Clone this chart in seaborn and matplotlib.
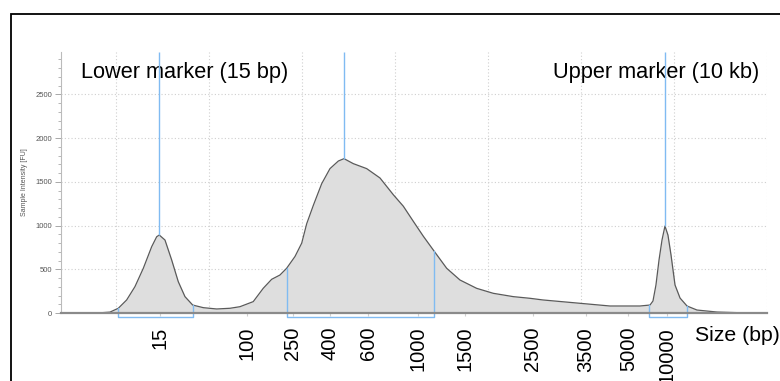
import numpy as np
import pandas as pd
import matplotlib
matplotlib.use("Agg")
import matplotlib.pyplot as plt
import seaborn as sns
from matplotlib.patches import Rectangle
from matplotlib.ticker import MultipleLocator

# Electropherogram trace (migration position vs. sample intensity [FU])
pos = [4.09, 6.77, 8.28, 9.35, 10.25, 11.15, 12.04, 12.94, 13.84, 14.38, 14.66,
       15.27, 15.99, 16.70, 17.42, 18.25, 19.39, 20.83, 22.26, 23.33, 24.76,
       25.84, 26.74, 27.63, 28.35, 29.25, 29.97, 30.51, 31.22, 32.12, 33.01,
       33.91, 34.52, 35.52, 36.96, 38.39, 39.82, 40.90, 41.97, 43.05, 44.12,
       45.56, 46.99, 48.78, 50.57, 52.72, 54.52, 55.91, 59.57, 63.12, 66.34,
       67.42, 67.74, 68.06, 68.39, 68.71, 69.03, 69.35, 69.68, 70.11, 70.65,
       71.40, 72.47, 74.62, 77.42, 80.0]
intensity = [0, 0, 2, 10, 54, 149, 301, 511, 758, 872, 891,
             834, 606, 358, 187, 91, 61, 46, 54, 72, 130,
             283, 385, 434, 511, 646, 798, 1021, 1230, 1478, 1650,
             1737, 1764, 1707, 1650, 1543, 1352, 1220, 1048, 877, 720,
             511, 377, 282, 225, 187, 168, 149, 114, 80, 80,
             91, 137, 320, 606, 834, 994, 891, 663, 320, 171,
             80, 34, 11, 2, 0]

# Ladder (size axis) labels and their positions
ladder_sizes = ["15", "100", "250", "400", "600", "1000", "1500",
                "2500", "3500", "5000", "10000"]
ladder_pos = [14.73, 24.09, 29.03, 33.0, 37.1, 42.5, 47.5,
              54.8, 60.5, 65.1, 69.2]

# Peak markers and integration regions
peak_pos = [14.66, 34.52, 69.03]
region_start = [10.22, 28.39, 67.31]
region_end = [18.28, 44.19, 71.40]

lower_label = "Lower marker (15 bp)"
upper_label = "Upper marker (10 kb)"
x_label = "Size (bp)"
y_label = "Sample Intensity [FU]"

sns.set_theme(style="white")
plt.rcParams["font.family"] = ["Liberation Sans", "DejaVu Sans"]

BLUE = "#80BBF2"
YMAX = 2983
XMIN, XMAX = 4.09, 80.0

fig = plt.figure(figsize=(7.8, 3.81), dpi=100)
ax = fig.add_axes([61 / 780, 1 - 313 / 381, (767 - 61) / 780, (313 - 52) / 381])

df = pd.DataFrame({"pos": pos, "intensity": intensity})
ax.fill_between(df["pos"], df["intensity"], 0, color="#DEDEDE", lw=0, zorder=2)
sns.lineplot(data=df, x="pos", y="intensity", ax=ax, color="#5A5A5A",
             lw=0.9, zorder=3)

ax.set_xlim(XMIN, XMAX)
ax.set_ylim(0, YMAX)

# grid
for g in range(10, 81, 10):
    ax.axvline(g, color="#CFCFCF", lw=0.8, ls=(0, (1, 2)), zorder=1)
ax.set_yticks(range(0, 2501, 500))
ax.yaxis.set_minor_locator(MultipleLocator(100))
ax.grid(axis="y", which="major", color="#CFCFCF", lw=0.8, ls=(0, (1, 2)), zorder=1)
ax.grid(axis="x", visible=False)
ax.set_axisbelow(True)

# peak marker lines
for p in peak_pos:
    ax.vlines(p, np.interp(p, pos, intensity), YMAX, color=BLUE, lw=1.0, zorder=4)

# region brackets
for a, b in zip(region_start, region_end):
    ya = np.interp(a, pos, intensity)
    yb = np.interp(b, pos, intensity)
    ax.plot([a, a, b, b], [ya, -46, -46, yb], color=BLUE, lw=1.0,
            clip_on=False, zorder=4)

# spines
for s in ["top", "right"]:
    ax.spines[s].set_visible(False)
ax.spines["bottom"].set_color("#8A8A8A")
ax.spines["bottom"].set_linewidth(1.6)
ax.spines["bottom"].set_zorder(5)
ax.spines["left"].set_color("#BBBBBB")
ax.spines["left"].set_linewidth(0.8)

# ticks
ax.set_xticks(ladder_pos, ladder_sizes, rotation=90)
ax.tick_params(axis="x", bottom=True, length=2, width=0.8, color="#D0D0D0",
               pad=8, labelsize=14.5, labelcolor="black")
ax.tick_params(axis="y", which="major", left=True, length=4, width=0.6,
               color="#9A9A9A", labelsize=5.5, labelcolor="#555555", pad=2.5)
ax.tick_params(axis="y", which="minor", left=True, length=2, width=0.5,
               color="#9A9A9A")
ax.set_xlabel("")
ax.set_ylabel("")

# annotations
ax.text(6.24, 2686, lower_label, fontsize=15.7, va="baseline", ha="left",
        color="black")
ax.text(56.99, 2686, upper_label, fontsize=15.7, va="baseline", ha="left",
        color="black")
ax.text(72.26, -320, x_label, fontsize=15.3, va="baseline", ha="left",
        clip_on=False, color="black")
fig.text(25 / 780, 1 - 182 / 381, y_label, rotation=90, fontsize=5,
         color="#555555", ha="center", va="center")

# outer frame
fig.add_artist(Rectangle((10.8 / 780, -0.2), 2.0, 1.2 - 13.5 / 381,
                         transform=fig.transFigure, fill=False,
                         edgecolor="black", lw=1.3))

fig.savefig("out.png", dpi=100)
